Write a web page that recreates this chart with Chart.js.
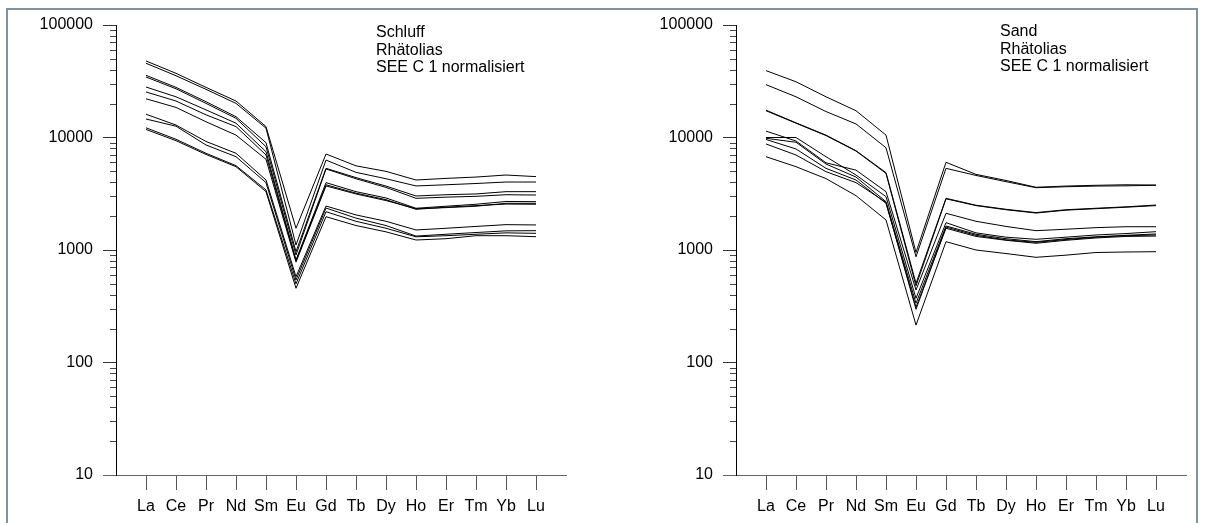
<!DOCTYPE html>
<html>
<head>
<meta charset="utf-8">
<script src="https://cdn.jsdelivr.net/npm/chart.js@4/dist/chart.umd.min.js"></script>
<style>
html,body{margin:0;padding:0;background:#fff;overflow:hidden;width:1205px;height:523px;}
#frame{position:absolute;left:6px;top:8px;width:1188px;height:540px;border:2px solid #7d92a2;}
canvas{position:absolute;top:0;}
#cl{left:0;}
#cr{left:620px;}
.note{position:absolute;font-family:"Liberation Sans",Arial,sans-serif;font-size:16px;line-height:17.5px;color:#000;white-space:nowrap;}
</style>
</head>
<body>
<div id="frame"></div>
<canvas id="cl" width="600" height="523"></canvas>
<canvas id="cr" width="585" height="523"></canvas>
<div class="note" id="nl" style="left:376px;top:23px;"></div>
<div class="note" id="nr" style="left:1000px;top:22px;"></div>
<script>
// ---- data ----
const ELEMENTS = ['La','Ce','Pr','Nd','Sm','Eu','Gd','Tb','Dy','Ho','Er','Tm','Yb','Lu'];
const Y_TICKS = [10, 100, 1000, 10000, 100000];
const NOTE_LEFT = ['Schluff', 'Rhätolias', 'SEE C 1 normalisiert'];
const NOTE_RIGHT = ['Sand', 'Rhätolias', 'SEE C 1 normalisiert'];

// Schluff (left panel)
const schluff1  = [47900, 37200, 27900, 21100, 12500, 1560, 7130, 5600, 5000, 4190, 4330, 4450, 4640, 4490];
const schluff2  = [45700, 35400, 26800, 20100, 12100, 1107, 6300, 4900, 4300, 3710, 3800, 3900, 4020, 4020];
const schluff3  = [35700, 27900, 20800, 15300, 8990, 966, 5320, 4400, 3700, 3020, 3100, 3150, 3300, 3300];
const schluff4  = [34500, 27100, 20100, 14800, 8280, 903, 5250, 4300, 3600, 2880, 2950, 3000, 3100, 3080];
const schluff5  = [28100, 23000, 17600, 13400, 7480, 815, 3970, 3300, 2900, 2350, 2450, 2550, 2700, 2690];
const schluff6  = [25400, 21100, 15900, 12500, 6990, 800, 3800, 3200, 2800, 2300, 2400, 2480, 2560, 2550];
const schluff7  = [22100, 18500, 13800, 10500, 6400, 780, 3710, 3150, 2750, 2330, 2380, 2450, 2600, 2600];
const schluff8  = [16100, 12900, 9220, 7240, 4190, 579, 2460, 2050, 1800, 1507, 1560, 1620, 1680, 1670];
const schluff9  = [14600, 12600, 8580, 6750, 3970, 541, 2360, 1920, 1650, 1330, 1380, 1430, 1480, 1485];
const schluff10 = [12200, 9640, 7240, 5620, 3420, 500, 2190, 1800, 1560, 1310, 1340, 1380, 1420, 1407];
const schluff11 = [11800, 9370, 7070, 5500, 3300, 457, 1977, 1650, 1450, 1227, 1260, 1340, 1340, 1313];

// Sand (right panel)
const sand1  = [39300, 31300, 23000, 17300, 10500, 950, 6020, 4700, 4150, 3610, 3700, 3760, 3800, 3780];
const sand2  = [29500, 23000, 17000, 13200, 8110, 870, 5320, 4600, 4050, 3580, 3650, 3700, 3720, 3760];
const sand3  = [17500, 13500, 10500, 7630, 4870, 506, 2880, 2500, 2300, 2150, 2280, 2350, 2420, 2510];
const sand4  = [17300, 13400, 10400, 7580, 4800, 480, 2850, 2480, 2280, 2130, 2260, 2330, 2400, 2480];
const sand5  = [11400, 9310, 5960, 5130, 3300, 441, 2120, 1800, 1620, 1485, 1530, 1580, 1610, 1610];
const sand6  = [10000, 10000, 6750, 4640, 2980, 372, 1750, 1420, 1300, 1245, 1300, 1360, 1400, 1455];
const sand7  = [9840, 9070, 5810, 4450, 2690, 336, 1635, 1380, 1260, 1186, 1260, 1310, 1350, 1388];
const sand8  = [9600, 7910, 5320, 4190, 2600, 310, 1560, 1320, 1220, 1148, 1220, 1280, 1320, 1330];
const sand9  = [8760, 6990, 4970, 3970, 2650, 297, 1600, 1350, 1230, 1170, 1240, 1300, 1340, 1360];
const sand10 = [6750, 5500, 4310, 3040, 1850, 215, 1186, 1000, 930, 861, 900, 950, 960, 966];

const SCHLUFF = [schluff1, schluff2, schluff3, schluff4, schluff5, schluff6, schluff7, schluff8, schluff9, schluff10, schluff11];
const SAND = [sand1, sand2, sand3, sand4, sand5, sand6, sand7, sand8, sand9, sand10];

// ---- rendering ----
const FONT = '"Liberation Sans", Arial, sans-serif';
function isPow10(v) {
  if (!(v > 0)) return false;
  const l = Math.log10(v);
  return Math.abs(l - Math.round(l)) < 1e-9;
}

const minorTicks = {
  id: 'minorTicks',
  afterDraw(chart) {
    const ys = chart.scales.y, ctx = chart.ctx, left = chart.chartArea.left;
    ctx.save();
    ctx.strokeStyle = '#444';
    ctx.lineWidth = 1;
    for (let e = 1; e < 5; e++) {
      for (let k = 2; k <= 9; k++) {
        const py = Math.round(ys.getPixelForValue(k * Math.pow(10, e))) + 0.5;
        ctx.beginPath();
        ctx.moveTo(left - 6, py);
        ctx.lineTo(left, py);
        ctx.stroke();
      }
    }
    ctx.restore();
  }
};

function makeChart(id, series, padRight) {
  const datasets = series.map(s => ({
    data: s.map((v, i) => ({ x: i + 1, y: v })),
    borderColor: '#000',
    borderWidth: 1,
    pointRadius: 0,
    tension: 0,
    fill: false
  }));
  return new Chart(document.getElementById(id), {
    type: 'line',
    data: { datasets },
    options: {
      responsive: false,
      animation: false,
      layout: { padding: { top: 25, right: padRight, left: 0, bottom: 0 } },
      plugins: { legend: { display: false }, tooltip: { enabled: false } },
      scales: {
        x: {
          type: 'linear', min: 0, max: ELEMENTS.length + 1,
          afterBuildTicks: s => {
            s.ticks = [];
            for (let i = 0; i <= ELEMENTS.length + 1; i++) s.ticks.push({ value: i });
          },
          ticks: {
            autoSkip: false, maxRotation: 0, padding: 7, color: '#000',
            font: { family: FONT, size: 16 },
            callback: v => (v >= 1 && v <= ELEMENTS.length) ? ELEMENTS[v - 1] : ''
          },
          grid: {
            display: true, drawOnChartArea: false, drawTicks: true, tickLength: 15,
            color: c => (c.tick && c.tick.value >= 1 && c.tick.value <= ELEMENTS.length) ? '#555' : 'rgba(0,0,0,0)'
          },
          border: { display: true, color: '#666', width: 1 },
          afterFit: s => { s.height = 48; }
        },
        y: {
          type: 'logarithmic', min: Y_TICKS[0], max: Y_TICKS[Y_TICKS.length - 1],
          ticks: {
            autoSkip: false, padding: 10, color: '#000',
            font: { family: FONT, size: 16 },
            callback: v => (Y_TICKS.includes(v) || isPow10(v)) ? String(v) : ''
          },
          grid: {
            display: true, drawOnChartArea: false, drawTicks: true, tickLength: 13,
            color: c => {
              const v = c.tick && c.tick.value;
              return isPow10(v) ? (v === Y_TICKS[0] ? '#666' : '#333') : 'rgba(0,0,0,0)';
            }
          },
          border: { display: true, color: '#000', width: 1 },
          afterFit: s => { s.width = 116; }
        }
      }
    },
    plugins: [minorTicks]
  });
}

makeChart('cl', SCHLUFF, 34);
makeChart('cr', SAND, 19);

document.getElementById('nl').innerHTML = NOTE_LEFT.join('<br>');
document.getElementById('nr').innerHTML = NOTE_RIGHT.join('<br>');
</script>
</body>
</html>
